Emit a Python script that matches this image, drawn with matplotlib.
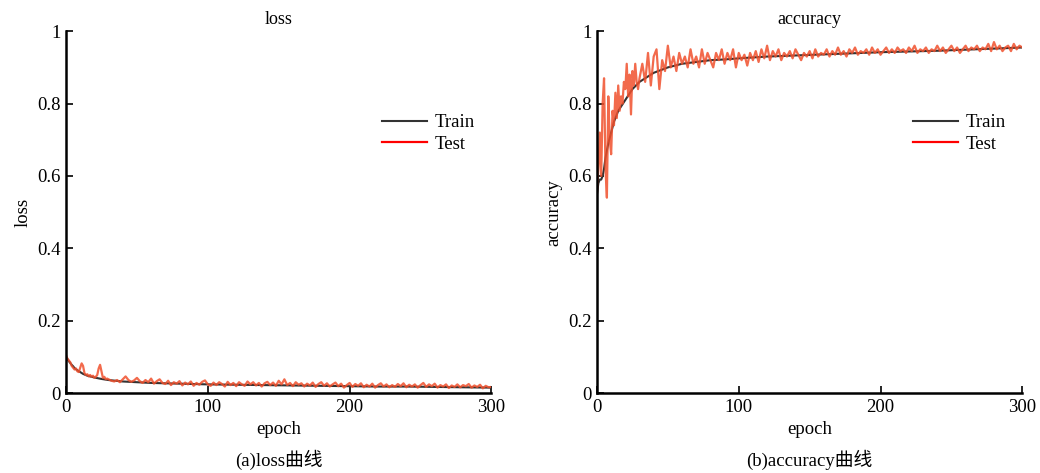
import matplotlib.pyplot as plt
from matplotlib.ticker import FuncFormatter

train_epochs = [0, 1, 2, 3, 4, 5, 6, 8, 10, 12, 15, 20, 25, 30, 40, 50, 60, 70, 80, 90,
                100, 120, 140, 160, 180, 200, 220, 240, 260, 280, 300]
test_epochs = list(range(0, 30)) + list(range(30, 301, 2))

loss_train = [0.100, 0.094, 0.088, 0.083, 0.078, 0.074, 0.069, 0.063, 0.058, 0.053, 0.048,
              0.043, 0.039, 0.036, 0.032, 0.030, 0.028, 0.027, 0.026, 0.025,
              0.024, 0.023, 0.022, 0.021, 0.020, 0.019, 0.018, 0.018, 0.017, 0.016, 0.015]

loss_test = [0.105, 0.095, 0.090, 0.085, 0.075, 0.070, 0.065, 0.068, 0.060, 0.058,
             0.070, 0.082, 0.075, 0.055, 0.050, 0.052, 0.046, 0.050, 0.045, 0.048,
             0.042, 0.045, 0.050, 0.068, 0.078, 0.060, 0.042, 0.045, 0.038, 0.040,
             # 30 .. 300 step 2
             0.038, 0.034, 0.032, 0.036, 0.030, 0.038, 0.046, 0.036, 0.031, 0.035,
             0.042, 0.033, 0.028, 0.036, 0.030, 0.040, 0.026, 0.033, 0.038, 0.028,
             0.025, 0.034, 0.022, 0.030, 0.026, 0.033, 0.021, 0.029, 0.024, 0.032,
             0.020, 0.028, 0.023, 0.031, 0.035, 0.024, 0.020, 0.029, 0.022, 0.030,
             0.025, 0.018, 0.031, 0.022, 0.028, 0.019, 0.030, 0.024, 0.020, 0.032,
             0.024, 0.030, 0.021, 0.028, 0.018, 0.027, 0.031, 0.022, 0.029, 0.020,
             0.034, 0.024, 0.038, 0.022, 0.028, 0.019, 0.030, 0.023, 0.027, 0.018,
             0.026, 0.021, 0.029, 0.017, 0.025, 0.030, 0.020, 0.027, 0.018, 0.024,
             0.029, 0.019, 0.026, 0.015, 0.022, 0.028, 0.017, 0.025, 0.020, 0.027,
             0.016, 0.023, 0.018, 0.026, 0.015, 0.022, 0.027, 0.018, 0.024, 0.016,
             0.022, 0.017, 0.025, 0.019, 0.027, 0.016, 0.023, 0.018, 0.024, 0.015,
             0.022, 0.028, 0.017, 0.024, 0.019, 0.026, 0.015, 0.022, 0.018, 0.024,
             0.014, 0.021, 0.017, 0.024, 0.016, 0.022, 0.019, 0.025, 0.015, 0.021,
             0.017, 0.023, 0.013, 0.020, 0.016, 0.017]

acc_train = [0.55, 0.58, 0.59, 0.59, 0.60, 0.62, 0.65, 0.69, 0.72, 0.75, 0.78,
             0.81, 0.84, 0.86, 0.885, 0.90, 0.91, 0.915, 0.92, 0.922,
             0.925, 0.93, 0.933, 0.936, 0.939, 0.942, 0.944, 0.946, 0.949, 0.952, 0.955]

acc_test = [0.55, 0.62, 0.72, 0.60, 0.80, 0.87, 0.62, 0.54, 0.82, 0.70,
            0.66, 0.78, 0.74, 0.83, 0.76, 0.85, 0.78, 0.82, 0.80, 0.86,
            0.84, 0.91, 0.82, 0.88, 0.77, 0.89, 0.85, 0.91, 0.86, 0.84,
            # 30 .. 300 step 2
            0.87, 0.91, 0.86, 0.94, 0.85, 0.93, 0.95, 0.84, 0.92, 0.89,
            0.96, 0.90, 0.93, 0.89, 0.94, 0.91, 0.93, 0.90, 0.95, 0.91,
            0.93, 0.90, 0.95, 0.91, 0.94, 0.92, 0.90, 0.94, 0.92, 0.95,
            0.91, 0.94, 0.92, 0.95, 0.90, 0.94, 0.92, 0.935, 0.905, 0.94,
            0.92, 0.945, 0.915, 0.95, 0.925, 0.96, 0.92, 0.945, 0.93, 0.95,
            0.92, 0.94, 0.93, 0.945, 0.925, 0.95, 0.935, 0.92, 0.94, 0.93,
            0.945, 0.925, 0.95, 0.93, 0.94, 0.935, 0.95, 0.93, 0.945, 0.935,
            0.955, 0.935, 0.945, 0.93, 0.95, 0.94, 0.955, 0.935, 0.945, 0.94,
            0.95, 0.935, 0.955, 0.94, 0.95, 0.935, 0.945, 0.955, 0.94, 0.95,
            0.94, 0.955, 0.945, 0.95, 0.94, 0.955, 0.945, 0.96, 0.94, 0.95,
            0.945, 0.955, 0.94, 0.95, 0.945, 0.96, 0.945, 0.955, 0.94, 0.95,
            0.96, 0.945, 0.955, 0.94, 0.95, 0.96, 0.945, 0.955, 0.95, 0.96,
            0.945, 0.955, 0.95, 0.965, 0.945, 0.97, 0.95, 0.96, 0.945, 0.955,
            0.96, 0.945, 0.965, 0.95, 0.96, 0.955]

panels = [
    ("loss", loss_train, loss_test, "(a)loss曲线"),
    ("accuracy", acc_train, acc_test, "(b)accuracy曲线"),
]

plt.rcParams['font.family'] = ['Liberation Serif', 'Noto Sans CJK SC']
plt.rcParams['font.size'] = 13.5

fig = plt.figure(figsize=(10.4, 4.73), dpi=100)
lefts = [0.0635, 0.574]

for left, (name, train, test, caption) in zip(lefts, panels):
    ax = fig.add_axes([left, 0.169, 0.409, 0.765])
    ax.plot(train_epochs, train, color='#333333', lw=1.5, label='Train')
    ax.plot(test_epochs, test, color='#f0502d', lw=1.6, alpha=0.85, label='Test')
    ax.set_xlim(0, 300)
    ax.set_ylim(0, 1)
    ax.set_xticks([0, 100, 200, 300])
    ax.set_yticks([0, 0.2, 0.4, 0.6, 0.8, 1])
    ax.yaxis.set_major_formatter(FuncFormatter(lambda v, p: '%g' % v))
    for s in ['top', 'right']:
        ax.spines[s].set_visible(False)
    for s in ['left', 'bottom']:
        ax.spines[s].set_linewidth(1.8)
    ax.tick_params(direction='in', length=5, width=1.2, pad=4)
    ax.set_title(name, fontsize=13, pad=5)
    ax.set_ylabel(name)
    ax.set_xlabel('epoch', labelpad=4)
    leg = ax.legend(loc='upper right', bbox_to_anchor=(1.0, 0.818), frameon=False,
                    handlelength=2.4, handletextpad=0.4, labelspacing=0.25)
    leg.get_lines()[1].set_color('red')
    leg.get_lines()[1].set_alpha(1)
    fig.text(left + 0.2045, 0.027, caption, ha='center', va='center')

plt.savefig('out.png', dpi=100)
